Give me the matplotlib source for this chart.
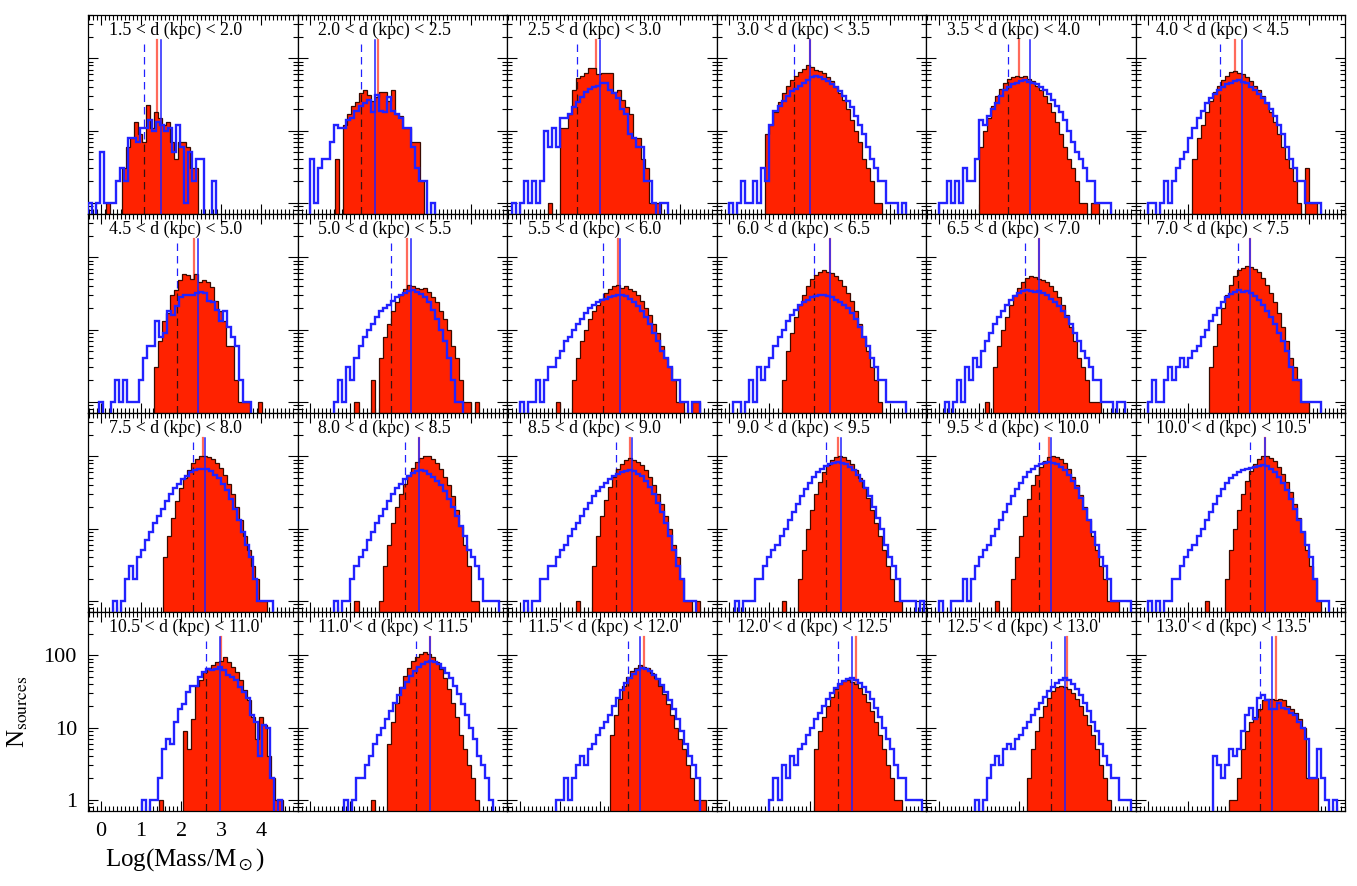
import numpy as np
import matplotlib
matplotlib.use('Agg')
import matplotlib.pyplot as plt
from matplotlib.ticker import MultipleLocator, LogLocator, NullFormatter

plt.rcParams['font.family'] = ['Liberation Serif', 'DejaVu Serif']
plt.rcParams['mathtext.fontset'] = 'stix'

titles = ['1.5 < d (kpc) < 2.0', '2.0 < d (kpc) < 2.5', '2.5 < d (kpc) < 3.0',
          '3.0 < d (kpc) < 3.5', '3.5 < d (kpc) < 4.0', '4.0 < d (kpc) < 4.5',
          '4.5 < d (kpc) < 5.0', '5.0 < d (kpc) < 5.5', '5.5 < d (kpc) < 6.0',
          '6.0 < d (kpc) < 6.5', '6.5 < d (kpc) < 7.0', '7.0 < d (kpc) < 7.5',
          '7.5 < d (kpc) < 8.0', '8.0 < d (kpc) < 8.5', '8.5 < d (kpc) < 9.0',
          '9.0 < d (kpc) < 9.5', '9.5 < d (kpc) < 10.0', '10.0 < d (kpc) < 10.5',
          '10.5 < d (kpc) < 11.0', '11.0 < d (kpc) < 11.5', '11.5 < d (kpc) < 12.0',
          '12.0 < d (kpc) < 12.5', '12.5 < d (kpc) < 13.0', '13.0 < d (kpc) < 13.5']

BIN = 0.1

red_start = [0.13, 0.62, 0.71, 0.9, 1.0, 1.1,
             1.325, 1.1, 0.9, 1.3, 1.15, 1.5,
             1.55, 1.1, 1.4, 1.3, 1.4, 1.4,
             1.44, 1.5, 2.25, 2.1, 2.2, 2.02]

red_counts = [
    [1, 0, 0, 0, 3, 6, 8, 13, 9, 7, 23, 11, 18, 15, 12, 13, 7, 4, 7, 7, 6, 3, 3],
    [4, 0, 12, 17, 22, 25, 33, 36, 31, 26, 29, 34, 34, 26, 36, 17, 16, 11, 11, 7, 7, 2],
    [1, 0, 0, 11, 11, 17, 37, 53, 57, 63, 73, 73, 60, 62, 62, 63, 34, 36, 27, 21, 17, 8, 8, 4, 3, 1, 1, 1],
    [9, 12, 18, 25, 33, 42, 50, 58, 65, 72, 80, 76, 70, 66, 62, 55, 48, 40, 33, 27, 20, 14, 10, 7, 4, 3, 2, 1, 1],
    [6, 10, 15, 22, 30, 38, 45, 52, 56, 58, 55, 57, 52, 48, 42, 36, 30, 24, 18, 13, 9, 6, 4, 3, 2, 1, 1, 0, 1, 1],
    [4, 8, 12, 18, 26, 34, 42, 50, 58, 64, 68, 62, 60, 55, 48, 42, 36, 30, 24, 18, 13, 9, 6, 4, 3, 2, 1, 0, 3, 1, 1],
    [3, 7, 13, 17, 30, 35, 48, 59, 57, 50, 59, 45, 48, 45, 39, 25, 18, 13, 6, 6, 2, 1, 1, 1, 0, 0, 1],
    [1, 0, 0, 0, 2, 0, 4, 8, 12, 18, 24, 30, 36, 41, 40, 38, 36, 38, 33, 28, 24, 18, 14, 10, 6, 4, 2, 1, 1, 0, 1],
    [1, 0, 0, 0, 2, 4, 7, 10, 14, 18, 22, 27, 32, 36, 40, 41, 38, 40, 36, 34, 30, 25, 20, 16, 12, 9, 6, 4, 3, 2, 1, 1, 0, 0, 1, 1],
    [2, 5, 9, 15, 22, 30, 40, 50, 58, 63, 66, 62, 60, 55, 48, 40, 32, 25, 18, 12, 8, 5, 3, 2, 1],
    [1, 0, 3, 6, 10, 15, 22, 30, 38, 45, 52, 56, 54, 50, 48, 45, 40, 34, 28, 22, 16, 11, 7, 4, 3, 2, 1, 1, 1],
    [3, 6, 12, 20, 30, 42, 55, 66, 72, 77, 74, 70, 62, 52, 42, 32, 24, 17, 11, 7, 4, 3, 2, 1, 1],
    [4, 8, 14, 24, 36, 50, 65, 80, 92, 100, 103, 98, 92, 82, 70, 56, 42, 30, 20, 13, 8, 5, 3, 2, 1, 1],
    [1, 0, 0, 0, 0, 0, 1, 3, 6, 12, 20, 30, 42, 56, 70, 84, 95, 103, 100, 92, 80, 66, 52, 40, 28, 18, 11, 6, 3, 1, 1],
    [1, 0, 0, 0, 3, 8, 15, 25, 38, 52, 66, 78, 88, 94, 90, 85, 76, 64, 52, 40, 30, 22, 15, 10, 6, 4, 2, 1, 1, 0, 1],
    [1, 0, 0, 0, 2, 5, 10, 18, 30, 44, 60, 75, 88, 98, 103, 98, 90, 78, 64, 50, 38, 27, 18, 12, 8, 5, 3, 2, 1, 1],
    [1, 0, 0, 0, 2, 4, 8, 15, 26, 40, 56, 72, 86, 97, 103, 98, 92, 80, 66, 52, 40, 29, 20, 13, 8, 5, 3, 2, 1, 1, 1],
    [1, 0, 0, 0, 0, 2, 5, 10, 18, 30, 45, 62, 78, 92, 100, 103, 96, 86, 72, 58, 44, 32, 22, 14, 9, 5, 3, 2, 1],
    [1, 0, 0, 0, 0, 0, 9, 5, 13, 38, 46, 59, 67, 73, 81, 85, 95, 81, 69, 59, 45, 33, 24, 14, 7, 14, 11, 4, 2, 1, 1],
    [1, 0, 0, 0, 6, 12, 22, 36, 52, 68, 84, 96, 106, 110, 104, 94, 80, 64, 48, 34, 22, 14, 8, 5, 3, 2, 1],
    [8, 15, 25, 38, 50, 60, 68, 73, 70, 66, 58, 48, 38, 29, 21, 15, 10, 7, 5, 3, 2, 1, 1, 1],
    [5, 9, 14, 20, 27, 34, 40, 44, 45, 43, 40, 35, 29, 23, 17, 12, 8, 5, 3, 2, 1, 1],
    [2, 5, 9, 14, 20, 26, 32, 36, 38, 37, 34, 30, 25, 20, 15, 11, 8, 5, 3, 2, 1],
    [1, 1, 2, 5, 9, 12, 14, 18, 24, 25, 25, 24, 25, 24, 20, 18, 16, 13, 10, 2, 2, 2],
]

blue_start = [-0.32, 0.0, -0.2, 0.0, 0.0, 0.0,
              -0.05, 0.6, 0.0, 0.1, 0.15, 0.0,
              0.3, 0.6, 0.1, 0.15, 0.0, 0.0,
              1.02, 0.85, 0.9, 1.0, 0.9, 1.6]

blue_counts = [
    [1, 0, 1, 5, 1, 1, 1, 2, 3, 2, 8, 8, 7, 11, 11, 14, 10, 13, 12, 10, 11, 5, 12, 6, 1, 5, 2, 4, 4, 0, 0, 2],
    [4, 1, 3, 4, 4, 7, 12, 11, 11, 14, 15, 19, 22, 24, 27, 18, 31, 19, 18, 29, 19, 17, 15, 11, 11, 6, 3, 2, 2, 0, 1],
    [1, 0, 1, 2, 1, 2, 1, 2, 10, 6, 11, 6, 15, 15, 17, 21, 25, 29, 34, 38, 40, 41, 45, 45, 37, 33, 28, 20, 17, 9, 8, 6, 6, 2, 2, 1, 0, 1, 1],
    [1, 0, 1, 2, 1, 1, 2, 1, 3, 2, 12, 19, 22, 26, 30, 35, 38, 42, 46, 50, 55, 58, 56, 52, 48, 44, 40, 35, 30, 26,
     21, 16, 12, 9, 6, 4, 3, 2, 2, 1, 1, 1, 0, 1],
    [1, 1, 2, 1, 2, 1, 3, 2, 2, 4, 14, 12, 16, 20, 24, 30, 36, 40, 44, 46, 48, 50, 47, 45, 44, 40, 36, 32, 27, 22,
     18, 14, 10, 7, 5, 4, 3, 2, 2, 1, 1, 1, 1],
    [1, 1, 0, 1, 2, 1, 2, 3, 4, 5, 8, 11, 15, 19, 24, 28, 32, 36, 40, 44, 46, 48, 50, 47, 45, 40, 36, 32, 28, 24,
     20, 16, 12, 9, 6, 4, 3, 2, 2, 1, 1, 1, 1],
    [1, 0, 0, 1, 2, 1, 2, 1, 1, 1, 2, 4, 6, 6, 13, 8, 9, 18, 16, 21, 28, 30, 30, 30, 32, 33, 32, 25, 24, 19, 13, 18, 11, 8, 6, 2, 1, 1],
    [1, 2, 1, 3, 2, 4, 6, 8, 10, 12, 15, 18, 20, 22, 25, 28, 30, 32, 34, 35, 33, 31, 28, 24, 19, 14, 10, 7, 4, 2,
     1, 1],
    [1, 0, 1, 1, 2, 1, 2, 3, 3, 4, 5, 7, 8, 10, 12, 14, 17, 20, 22, 24, 26, 27, 28, 29, 30, 30, 29, 27, 24, 21,
     18, 15, 12, 9, 7, 5, 4, 3, 2, 2, 1, 1, 0, 1, 1],
    [1, 1, 0, 1, 2, 1, 3, 2, 3, 4, 6, 8, 10, 13, 16, 19, 22, 24, 26, 28, 29, 30, 30, 29, 28, 26, 24, 22, 20, 17,
     14, 11, 8, 6, 4, 3, 2, 2, 1, 1, 1, 1, 1],
    [1, 0, 1, 2, 1, 3, 2, 4, 3, 5, 7, 9, 12, 15, 18, 22, 26, 29, 32, 34, 35, 34, 33, 34, 32, 30, 27, 24, 21, 18,
     15, 12, 9, 7, 5, 4, 3, 2, 2, 1, 1, 1, 0, 1, 1],
    [1, 2, 1, 1, 2, 3, 2, 3, 4, 3, 4, 5, 6, 8, 10, 13, 16, 20, 24, 28, 31, 33, 35, 33, 34, 32, 29, 26, 22, 18,
     15, 12, 9, 7, 5, 3, 2, 2, 1, 1, 1, 1, 1],
    [1, 0, 1, 2, 3, 2, 4, 5, 7, 9, 12, 15, 19, 24, 30, 36, 42, 48, 54, 60, 64, 66, 68, 66, 62, 56, 50, 42, 34, 26,
     19, 13, 9, 6, 4, 2, 1, 1, 1, 1],
    [1, 0, 1, 1, 2, 3, 4, 5, 7, 9, 12, 15, 19, 24, 30, 36, 42, 48, 54, 59, 62, 64, 62, 58, 52, 46, 40, 33, 26, 20,
     15, 11, 8, 5, 4, 3, 2, 1, 1, 1, 1],
    [1, 0, 1, 1, 2, 2, 3, 3, 4, 5, 6, 8, 10, 12, 15, 19, 23, 28, 33, 38, 43, 48, 53, 57, 60, 62, 64, 62, 58, 53,
     46, 38, 30, 23, 17, 12, 8, 5, 3, 2, 1, 1, 1],
    [1, 0, 1, 1, 1, 2, 2, 3, 4, 5, 6, 8, 10, 13, 17, 22, 28, 35, 43, 52, 60, 67, 73, 78, 81, 83, 82, 78, 72, 64,
     55, 45, 36, 28, 20, 14, 10, 6, 4, 3, 2, 1, 1, 1, 1, 0, 1],
    [1, 0, 0, 1, 1, 1, 2, 1, 2, 3, 4, 5, 6, 8, 10, 13, 17, 22, 28, 35, 43, 52, 60, 67, 73, 78, 81, 83, 82, 78,
     72, 64, 55, 45, 36, 27, 19, 13, 9, 6, 4, 3, 2, 1, 1, 1, 1, 1],
    [1, 0, 1, 0, 1, 1, 2, 2, 3, 4, 5, 6, 8, 10, 13, 17, 22, 28, 35, 43, 50, 56, 61, 65, 68, 70, 72, 74, 75, 73,
     68, 61, 52, 43, 34, 26, 19, 13, 9, 6, 4, 2, 1, 1, 1],
    [1, 0, 1, 1, 2, 5, 7, 6, 12, 18, 21, 31, 38, 38, 50, 59, 65, 62, 65, 70, 62, 53, 50, 45, 36, 31, 26, 15, 12, 4, 11, 10, 2, 0, 1],
    [1, 0, 1, 2, 2, 3, 4, 6, 8, 10, 13, 17, 22, 28, 35, 43, 52, 61, 70, 77, 82, 85, 82, 76, 68, 58, 48, 38, 29, 21,
     15, 10, 7, 4, 3, 2, 1],
    [1, 1, 2, 1, 2, 3, 4, 3, 5, 6, 8, 10, 12, 15, 20, 26, 33, 41, 49, 56, 62, 66, 64, 60, 54, 47, 39, 31, 24, 18, 13, 9, 6, 4, 3, 2],
    [1, 2, 1, 3, 2, 4, 3, 5, 6, 8, 10, 13, 16, 20, 25, 30, 35, 40, 44, 47, 48, 46, 42, 37, 31, 25, 19, 14, 10, 7, 5, 3, 2, 2, 1, 1, 1, 1],
    [1, 0, 1, 2, 3, 4, 3, 5, 6, 5, 7, 8, 10, 12, 15, 18, 22, 27, 32, 37, 42, 46, 48, 45, 40, 34, 28, 22, 17, 12, 9, 6, 4, 3, 2, 2, 1, 1, 1],
    [4, 3, 2, 3, 5, 4, 5, 9, 15, 19, 13, 26, 28, 24, 18, 18, 22, 19, 18, 16, 15, 12, 10, 7, 2, 2, 5, 2, 1, 0, 1],
]

red_med = [1.39, 1.68, 1.9, 2.0, 2.0, 2.16,
           2.31, 2.4, 2.45, 2.5, 2.5, 2.54,
           2.55, 2.7, 2.75, 2.7, 2.75, 2.9,
           2.99, 2.99, 3.1, 3.15, 3.2, 3.19]
blue_med = [1.5, 1.6, 2.0, 2.0, 2.28, 2.34,
            2.43, 2.5, 2.5, 2.5, 2.5, 2.54,
            2.6, 2.7, 2.8, 2.77, 2.8, 2.9,
            2.96, 2.99, 3.0, 3.05, 3.15, 3.08]
blue_dash = [1.075, 1.26, 1.43, 1.6, 1.73, 1.79,
             1.89, 2.0, 2.07, 2.1, 2.15, 2.24,
             2.3, 2.36, 2.4, 2.4, 2.5, 2.54,
             2.62, 2.64, 2.7, 2.7, 2.8, 2.79]

XLIM = (-0.32, 4.9)
YLIM = (0.7, 400)
RED = '#ff2200'
BLUE = '#2222ff'

W, H = 1357, 886
fig = plt.figure(figsize=(W / 100, H / 100), dpi=100)
X0, Y0 = 88, 15
PW, PH = 209.5, 199
LTOP = 0.875

for i in range(24):
    r, c = divmod(i, 6)
    left = (X0 + c * PW) / W
    bottom = 1 - (Y0 + (r + 1) * PH) / H
    ax = fig.add_axes([left, bottom, PW / W, PH / H])
    ax.set_yscale('log')

    rc = np.array(red_counts[i], dtype=float)
    re = red_start[i] + BIN * np.arange(len(rc) + 1)
    bc = np.array(blue_counts[i], dtype=float)
    be = blue_start[i] + BIN * np.arange(len(bc) + 1)
    rcv = np.where(rc > 0, rc, 0.05)
    bcv = np.where(bc > 0, bc, 0.05)

    ax.axvline(red_med[i], ymin=0, ymax=LTOP, color='#ff6a5a', lw=1.6, zorder=1)
    ax.axvline(blue_dash[i], ymin=0, ymax=LTOP, color=BLUE, lw=0.9, ls=(0, (6, 4)), zorder=1)

    ax.stairs(rcv, re, baseline=0.05, fill=True, color=RED, zorder=2, lw=0)
    ax.stairs(rcv, re, baseline=0.05, fill=False, color='#3a0a00', lw=0.9, zorder=2.5)

    k = int(np.floor((blue_dash[i] - red_start[i]) / BIN))
    if 0 <= k < len(rc) and rc[k] > 0:
        ax.vlines(blue_dash[i], YLIM[0], rc[k], colors='#3a1010', lw=0.9,
                  linestyles=(0, (6, 4)), zorder=2.7)

    ax.stairs(bcv, be, baseline=0.05, fill=False, color=BLUE, lw=1.7, zorder=3)
    ax.axvline(blue_med[i], ymin=0, ymax=LTOP, color=BLUE, lw=1.1, zorder=4)

    ax.set_xlim(*XLIM)
    ax.set_ylim(*YLIM)
    ax.xaxis.set_major_locator(MultipleLocator(1))
    ax.xaxis.set_minor_locator(MultipleLocator(0.1))
    ax.yaxis.set_major_locator(LogLocator(base=10, numticks=10))
    ax.yaxis.set_minor_locator(LogLocator(base=10, subs=np.arange(2, 10), numticks=20))
    ax.yaxis.set_minor_formatter(NullFormatter())
    ax.tick_params(which='both', direction='in', top=True, right=True, width=0.8)
    ax.tick_params(which='major', length=7)
    ax.tick_params(which='minor', length=3.5)
    for s in ax.spines.values():
        s.set_linewidth(0.9)

    ax.text(0.1, 0.925, titles[i], transform=ax.transAxes, fontsize=12.8,
            ha='left', va='center', zorder=5)

    if i == 18:
        ax.set_yticks([1, 10, 100], labels=['1', '10', '100'])
        ax.set_xticks([0, 1, 2, 3, 4], labels=['0', '1', '2', '3', '4'])
        ax.tick_params(which='major', labelsize=16, pad=8)
    else:
        ax.tick_params(labelbottom=False, labelleft=False)

fig.text(18 / W, 1 - 712 / H, r'N$_{\rm sources}$', rotation=90, fontsize=18,
         ha='center', va='center')
fig.text(185 / W, 1 - 860 / H, r'Log(Mass/M$_\odot$)', fontsize=18,
         ha='center', va='center')

fig.savefig('out.png', dpi=100)
